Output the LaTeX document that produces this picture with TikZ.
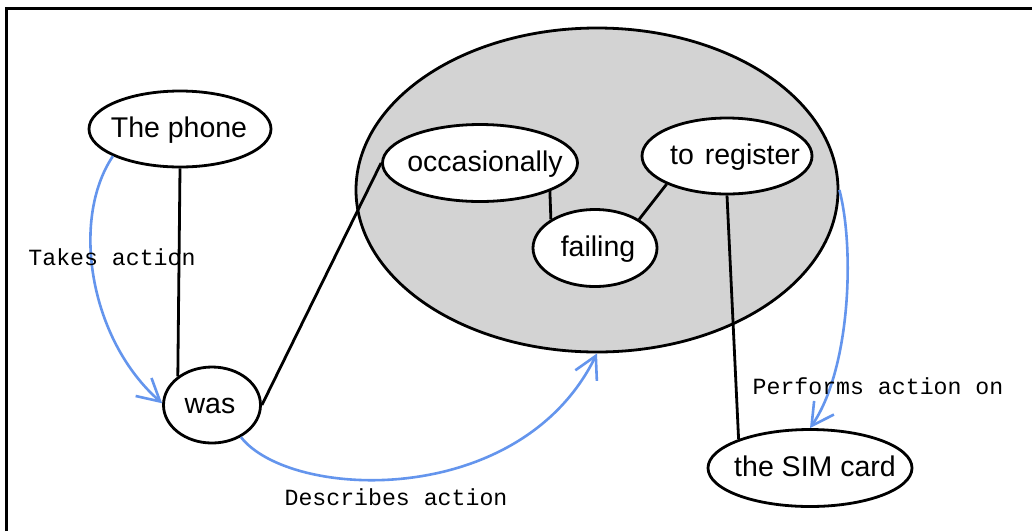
\documentclass[tikz,border=0pt]{standalone}
\usepackage{fontspec}
\setmainfont{Liberation Sans}
\newfontfamily\monof{Liberation Mono}
\usetikzlibrary{shapes.geometric,arrows.meta}
\definecolor{cfblue}{RGB}{100,149,237}
\definecolor{grpgray}{RGB}{211,211,211}
\newcommand{\wtxt}[2][0pt]{\makebox[0pt]{\hspace{#1}\raisebox{-8pt}[0pt][0pt]{#2}}}
\begin{document}
\begin{tikzpicture}[x=1pt,y=-1pt,
  word/.style={ellipse,draw=black,line width=2.8pt,fill=white,inner sep=0pt,
    font=\fontsize{28.5}{30}\selectfont},
  grp/.style={ellipse,draw=black,line width=2.8pt,fill=grpgray,inner sep=0pt,
    minimum width=482pt,minimum height=324pt},
  link/.style={draw=black,line width=2.8pt},
  rel/.style={draw=cfblue,line width=2.6pt,-{Straight Barb[length=22pt,width=24pt]}},
  lbl/.style={font=\monof\fontsize{23.2}{25}\selectfont,inner sep=0pt}]
\useasboundingbox (0,0) rectangle (1032,531);
\fill[white] (0,0) rectangle (1032,531);
\draw[line width=3pt] (6,531) -- (6,8) -- (1032,8);
\node[grp] (group) at (597,190) {};
\node[word,minimum width=182pt,minimum height=76pt] (phone) at (180,129) {\wtxt[-2pt]{The phone}};
\node[word,minimum width=97pt,minimum height=76pt] (was) at (212,405) {\wtxt[-4pt]{was}};
\node[word,minimum width=195pt,minimum height=77pt] (occ) at (480,163) {\wtxt[10pt]{occasionally}};
\node[word,minimum width=170pt,minimum height=76pt] (reg) at (727,156) {\wtxt[16pt]{to\hspace{3pt} register}};
\node[word,minimum width=124pt,minimum height=77pt] (fail) at (595,248) {\wtxt[6pt]{failing}};
\node[word,minimum width=204pt,minimum height=77pt] (sim) at (810,468) {\wtxt[10pt]{the SIM card}};
\draw[link] (phone.south) -- (was.140);
\draw[link] (was.east) -- (occ.west);
\draw[link] (occ.-22) -- (fail.147);
\draw[link] (reg.205) -- (fail.33);
\draw[link] (reg.south) -- (sim.158);
\draw[rel] (phone.202) .. controls (70,220) and (90,340) .. (was.178);
\draw[rel] (was.-48) .. controls (290,500) and (520,510) .. (group.south);
\draw[rel] (group.east) .. controls (855,250) and (850,370) .. (sim.north);
\node[lbl] (l1) at (112,257) {Takes action};
\node[lbl] (l2) at (396,497) {Describes action};
\node[lbl] (l3) at (878,386) {Performs action on};
\end{tikzpicture}
\end{document}
